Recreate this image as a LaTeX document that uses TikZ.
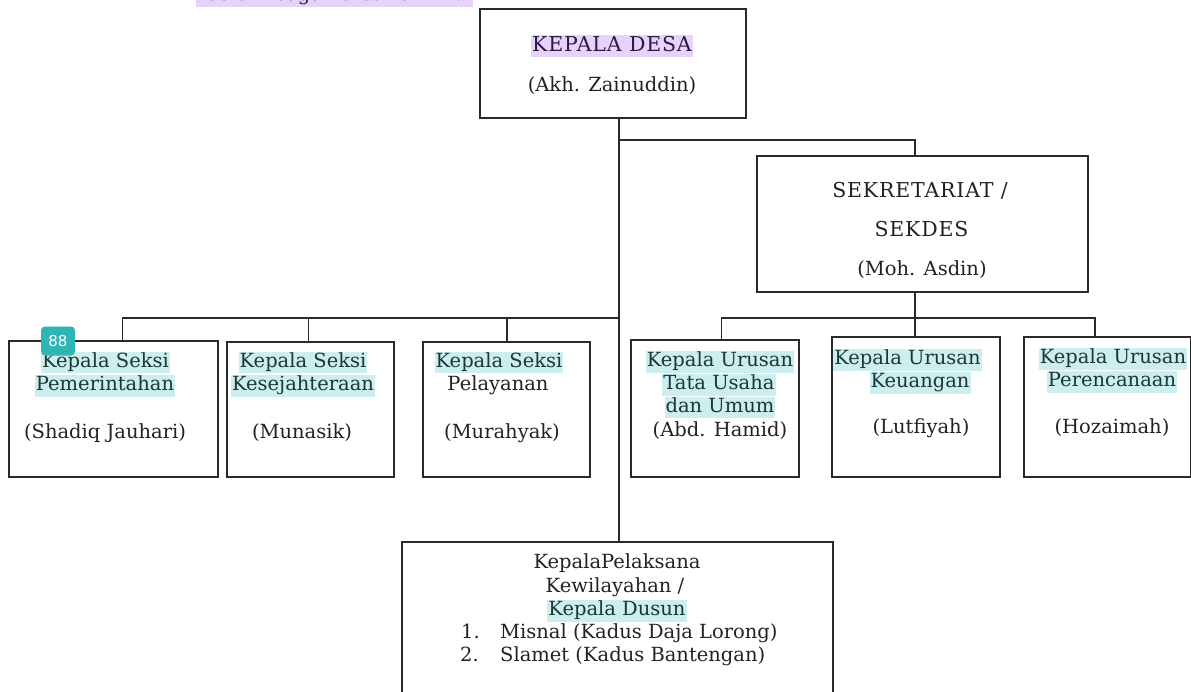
\documentclass[tikz,border=0pt]{standalone}
\usepackage{fontspec}
\setmainfont{DejaVu Serif}
\newfontfamily\capsfont{DejaVu Serif}[LetterSpace=4]
\newfontfamily\badgefont{DejaVu Sans}
\definecolor{txtgray}{HTML}{222222}
\definecolor{hlcyan}{HTML}{CDEEEE}
\definecolor{hltext}{HTML}{1C3636}
\definecolor{hlpurple}{HTML}{E6D2FB}
\definecolor{pptext}{HTML}{2A1A44}
\definecolor{badgeteal}{HTML}{2DB6B4}
\definecolor{linegray}{HTML}{2A2A2A}
\begin{document}
\begin{tikzpicture}[x=1pt,y=-1pt,
  box/.style={draw=linegray, line width=1.3pt, inner sep=0pt, fill=white},
  lbl/.style={inner sep=0pt, inner xsep=1pt, inner ysep=1.5pt, text=txtgray, font=\fontsize{19.5}{23}\selectfont, text height=14pt, text depth=4.5pt},
  caps/.style={lbl, font=\capsfont\fontsize{20.5}{24}\selectfont, text height=15pt, text depth=4.5pt},
  hl/.style={lbl, fill=hlcyan, text=hltext},
  hlp/.style={lbl, fill=hlpurple, text=pptext},
  conn/.style={draw=linegray, line width=1.2pt},
  badge/.style={fill=badgeteal, rounded corners=4pt, text=white, font=\badgefont\fontsize{15}{17}\selectfont, minimum width=34pt, minimum height=29pt, inner sep=0pt}
]
\useasboundingbox (0,0) rectangle (1191,691);
\fill[white] (0,0) rectangle (1191,691);

% cut-off intro line
\node[hlp, minimum width=277pt] (intro) at (334.5,-4) {dalam bagan dibawah ini.};

% coordinates of the connector lines
\coordinate (trunk) at (619,0);
\coordinate (jS) at (619,140);
\coordinate (jSe) at (915,140);
\coordinate (sd) at (915,318);
\coordinate (r1) at (721.5,318);
\coordinate (r3) at (1095,318);
\coordinate (l1) at (122.5,318);
\coordinate (l2) at (308.5,318);
\coordinate (l3) at (507,318);
\coordinate (lt) at (619,318);

% boxes
\node[box, minimum width=266pt, minimum height=109pt] (desa) at (613,63.5) {};
\node[box, minimum width=331pt, minimum height=136pt] (sekdes) at (922.5,224) {};
\node[box, minimum width=209pt, minimum height=136pt] (b1) at (113.5,409) {};
\node[box, minimum width=167pt, minimum height=135pt] (b2) at (310.5,409.5) {};
\node[box, minimum width=167pt, minimum height=135pt] (b3) at (506.5,409.5) {};
\node[box, minimum width=168pt, minimum height=137pt] (b4) at (715,408.5) {};
\node[box, minimum width=168pt, minimum height=140pt] (b5) at (916,407) {};
\node[box, minimum width=167pt, minimum height=140pt] (b6) at (1107.5,407) {};
\node[box, minimum width=431pt, minimum height=160pt] (kadus) at (617.5,622) {};

% connectors
\draw[conn] (desa.south -| trunk) -- (kadus.north -| trunk);
\draw[conn] (jS) -- (jSe) -- (jSe |- sekdes.north);
\draw[conn] (sekdes.south -| sd) -- (sd) -- (sd |- b5.north);
\draw[conn] (r1 |- b4.north) -- (r1) -- (r3) -- (r3 |- b6.north);
\draw[conn] (l1 |- b1.north) -- (l1) -- (lt);
\draw[conn] (l2) -- (l2 |- b2.north);
\draw[conn] (l3) -- (l3 |- b3.north);

% Kepala Desa
\node[hlp, caps, fill=hlpurple, text=pptext] (desa1) at (612,46) {KEPALA DESA};
\node[lbl] (desa2) at (612,87) {(Akh. Zainuddin)};

% Sekretariat
\node[caps] (sek1) at (920,192) {SEKRETARIAT /};
\node[caps] (sek2) at (921.5,231) {SEKDES};
\node[lbl] (sek3) at (922,271) {(Moh. Asdin)};

% Kepala Seksi boxes
\node[hl] (b1a) at (105.5,362.5) {Kepala Seksi};
\node[hl] (b1b) at (105,386) {Pemerintahan};
\node[lbl] (b1c) at (105,434) {(Shadiq Jauhari)};

\node[hl] (b2a) at (303,362.5) {Kepala Seksi};
\node[hl] (b2b) at (303,386) {Kesejahteraan};
\node[lbl] (b2c) at (302,434) {(Munasik)};

\node[hl] (b3a) at (499,362.5) {Kepala Seksi};
\node[lbl] (b3b) at (498,386) {Pelayanan};
\node[lbl] (b3c) at (502,434) {(Murahyak)};

% Kepala Urusan boxes
\node[hl] (b4a) at (720,362) {Kepala Urusan};
\node[hl] (b4b) at (719,385) {Tata Usaha};
\node[hl] (b4c) at (720,407.5) {dan Umum};
\node[lbl] (b4d) at (720,432) {(Abd. Hamid)};

\node[hl] (b5a) at (907.5,360) {Kepala Urusan};
\node[hl] (b5b) at (920,383) {Keuangan};
\node[lbl] (b5c) at (921,429) {(Lutfiyah)};

\node[hl] (b6a) at (1113,359) {Kepala Urusan};
\node[hl] (b6b) at (1112,382) {Perencanaan};
\node[lbl] (b6c) at (1112,429) {(Hozaimah)};

% Kepala Dusun box
\node[lbl] (k1) at (617,564) {KepalaPelaksana};
\node[lbl] (k2) at (615,587.5) {Kewilayahan /};
\node[hl] (k3) at (617,611) {Kepala Dusun};
\node[lbl, anchor=west] (k4n) at (460,634) {1.};
\node[lbl, anchor=west] (k4t) at (499,634) {Misnal (Kadus Daja Lorong)};
\node[lbl, anchor=west] (k5n) at (459,657) {2.};
\node[lbl, anchor=west] (k5t) at (499,657) {Slamet (Kadus Bantengan)};

% page badge
\node[badge] (badge) at (58,341) {88};
\end{tikzpicture}
\end{document}
